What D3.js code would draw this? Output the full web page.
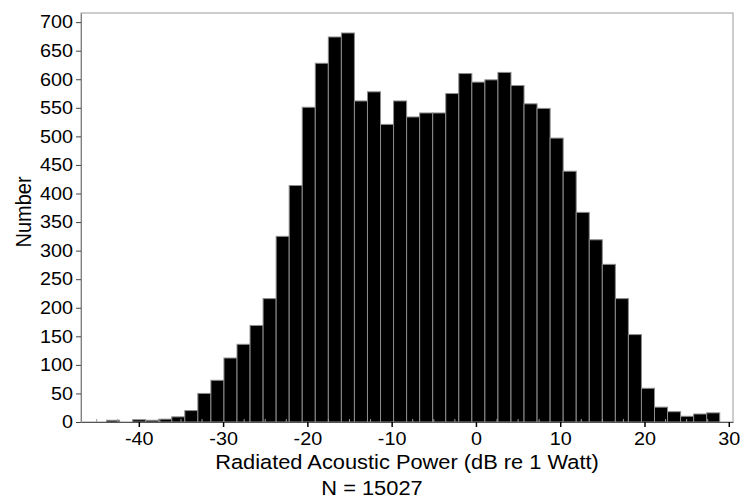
<!DOCTYPE html>
<html>
<head>
<meta charset="utf-8">
<script src="https://cdn.jsdelivr.net/npm/d3@7"></script>
<style>
  body { margin: 0; background: #fff; }
  svg { display: block; font-family: Arial, "Liberation Sans", sans-serif; }
</style>
</head>
<body>
<svg id="chart" width="743" height="501"></svg>
<script>
// histogram bins (dB re 1 Watt)
const binStart = -43.83;
const binWidth = 1.548;
const counts = [
  3, 0, 4, 3, 5, 9, 20, 50, 73, 112,
  136, 169, 216, 325, 414, 551, 628, 674, 681, 562,
  578, 521, 562, 534, 541, 541, 575, 610, 595, 599,
  612, 589, 557, 549, 497, 439, 367, 319, 276, 216,
  153, 59, 26, 18, 10, 14, 16
];
const xTicks = [-40, -30, -20, -10, 0, 10, 20, 30];
const xMinorTicks = d3.range(-45, 31, 2.5);
const yTicks = [0, 50, 100, 150, 200, 250, 300, 350, 400, 450, 500, 550, 600, 650, 700];
const xLabel = "Radiated Acoustic Power (dB re 1 Watt)";
const yLabel = "Number";
const nLabel = "N = 15027";

const bins = counts.map((c, i) => ({
  x0: binStart + i * binWidth,
  x1: binStart + (i + 1) * binWidth,
  count: c
}));

const svg = d3.select("#chart");
const plot = { left: 81, right: 733, top: 13, bottom: 422 };
const stretch = 1.1; // text in the reference is a bit wide

const x = d3.scaleLinear().domain([-46.86, 30.5]).range([plot.left, plot.right]);
const y = d3.scaleLinear().domain([0, 716]).range([plot.bottom, plot.top]);

// frame
svg.append("rect")
  .attr("x", plot.left).attr("y", plot.top)
  .attr("width", plot.right - plot.left).attr("height", plot.bottom - plot.top)
  .attr("fill", "none")
  .attr("stroke", "#9a9a9a")
  .attr("stroke-width", 1);

// bars
svg.append("g")
  .selectAll("rect")
  .data(bins)
  .join("rect")
  .attr("x", d => x(d.x0))
  .attr("y", d => y(d.count))
  .attr("width", d => x(d.x1) - x(d.x0))
  .attr("height", d => y(0) - y(d.count))
  .attr("fill", "#000")
  .attr("stroke", d => d.count > 0 ? "#8c8c8c" : "none")
  .attr("stroke-width", 1);

// minor ticks on the bottom, pointing in
svg.append("g")
  .selectAll("line")
  .data(xMinorTicks.filter(v => !xTicks.includes(v) && x(v) > plot.left && x(v) < plot.right))
  .join("line")
  .attr("x1", d => x(d)).attr("x2", d => x(d))
  .attr("y1", plot.bottom).attr("y2", plot.bottom - 3)
  .attr("stroke", "#999");

// x axis
const xAxis = svg.append("g")
  .attr("transform", `translate(0,${plot.bottom})`)
  .call(d3.axisBottom(x).tickValues(xTicks).tickFormat(d => String(d))
    .tickSize(5).tickSizeOuter(0).tickPadding(3));
xAxis.select(".domain").attr("stroke", "#555");
xAxis.selectAll(".tick line").attr("stroke", "#000").attr("stroke-width", 1.5);
xAxis.selectAll(".tick text")
  .attr("font-size", "18px")
  .attr("font-family", "Arial, 'Liberation Sans', sans-serif")
  .attr("fill", "#000")
  .attr("transform", `translate(0,2) scale(${stretch},1)`);

// y axis
const yAxis = svg.append("g")
  .attr("transform", `translate(${plot.left},0)`)
  .call(d3.axisLeft(y).tickValues(yTicks).tickFormat(d => String(d))
    .tickSize(5).tickSizeOuter(0).tickPadding(0));
yAxis.select(".domain").attr("stroke", "#808080");
yAxis.selectAll(".tick line").attr("stroke", "#444");
yAxis.selectAll(".tick text")
  .attr("font-size", "18px")
  .attr("font-family", "Arial, 'Liberation Sans', sans-serif")
  .attr("fill", "#000")
  .attr("x", 0)
  .attr("transform", `translate(-8,0) scale(${stretch},1)`);

// labels
svg.append("text")
  .attr("transform", `translate(407,469) scale(1.12,1)`)
  .attr("text-anchor", "middle")
  .attr("font-size", "19.5px")
  .text(xLabel);

svg.append("text")
  .attr("transform", `translate(372,495) scale(1.12,1)`)
  .attr("text-anchor", "middle")
  .attr("font-size", "19.5px")
  .text(nLabel);

svg.append("text")
  .attr("transform", `translate(31,212) scale(1.12,1) rotate(-90)`)
  .attr("text-anchor", "middle")
  .attr("font-size", "20px")
  .text(yLabel);
</script>
</body>
</html>
